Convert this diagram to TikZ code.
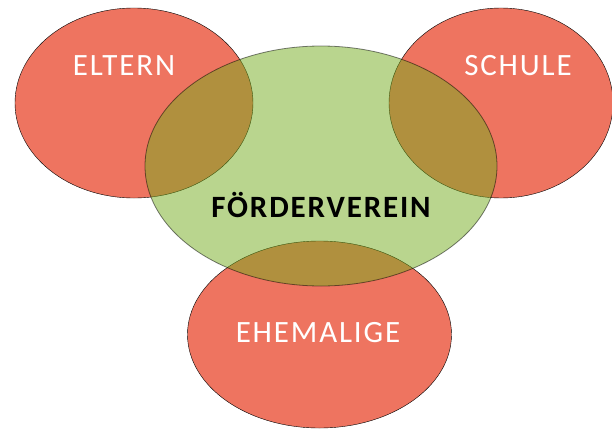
\documentclass[tikz,border=0pt]{standalone}
\usepackage{fontspec}
\setmainfont{Carlito}[LetterSpace=6]
\definecolor{rot}{RGB}{238,116,96}
\definecolor{gruen}{RGB}{115,172,30}

\begin{document}
\begin{tikzpicture}[x=1pt,y=-1pt]
	\useasboundingbox (0,0) rectangle (612,428);
	% Gruppen
	\filldraw[fill=rot, draw=black] (134,103) ellipse [x radius=119pt, y radius=95pt];
	\filldraw[fill=rot, draw=black] (501,103) ellipse [x radius=112pt, y radius=95pt];
	\filldraw[fill=rot, draw=black] (319.5,334.5) ellipse [x radius=132pt, y radius=93.5pt];
	% Verein, halb durchsichtig
	\filldraw[fill=gruen, draw=black, fill opacity=.5, draw opacity=.5, thick] (321,166) ellipse [x radius=176pt, y radius=120pt];
	
	\node[text=white, font=\fontsize{31}{37}\selectfont] (eltern) at (124,66) {ELTERN};
	\node[text=white, font=\fontsize{31}{37}\selectfont] (schule) at (518,66) {SCHULE};
	\node[text=white, font=\fontsize{31}{37}\selectfont] (ehemalige) at (318,333) {EHEMALIGE};
	\node[font=\fontsize{31}{37}\selectfont\bfseries] (verein) at (321,205) {FÖRDERVEREIN};
\end{tikzpicture}
\end{document}
